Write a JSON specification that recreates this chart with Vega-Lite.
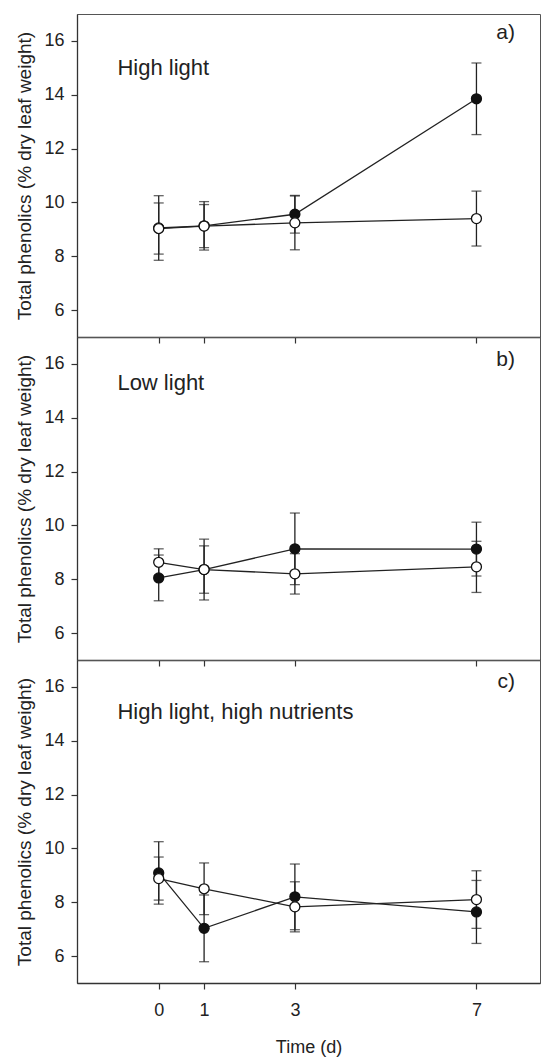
{
  "$schema": "https://vega.github.io/schema/vega-lite/v6.json",
  "padding": {"left": 15, "top": 13, "right": 0, "bottom": 0},
  "background": "white",
  "spacing": 0,
  "bounds": "flush",
  "config": {
    "font": "Liberation Sans",
    "view": {"stroke": "#555", "strokeWidth": 1},
    "axis": {
      "labelFont": "Liberation Sans",
      "titleFont": "Liberation Sans",
      "labelFontSize": 18,
      "titleFontSize": 18,
      "labelColor": "#222",
      "titleColor": "#222",
      "titleFontWeight": "normal",
      "domainColor": "#333",
      "tickColor": "#333",
      "domainWidth": 1.3,
      "tickWidth": 1.2,
      "tickSize": 6,
      "grid": false
    }
  },
  "datasets": {
    "pts": [
      {"panel": "a", "t": 0, "series": "filled", "mean": 9.05, "err": 1.2},
      {"panel": "a", "t": 1, "series": "filled", "mean": 9.13, "err": 0.9},
      {"panel": "a", "t": 3, "series": "filled", "mean": 9.56, "err": 0.7},
      {"panel": "a", "t": 7, "series": "filled", "mean": 13.85, "err": 1.33},
      {"panel": "a", "t": 0, "series": "open", "mean": 9.03, "err": 0.95},
      {"panel": "a", "t": 1, "series": "open", "mean": 9.12, "err": 0.8},
      {"panel": "a", "t": 3, "series": "open", "mean": 9.24, "err": 1.0},
      {"panel": "a", "t": 7, "series": "open", "mean": 9.4, "err": 1.02},
      {"panel": "b", "t": 0, "series": "filled", "mean": 8.05, "err": 0.85},
      {"panel": "b", "t": 1, "series": "filled", "mean": 8.36, "err": 0.88},
      {"panel": "b", "t": 3, "series": "filled", "mean": 9.13, "err": 1.33},
      {"panel": "b", "t": 7, "series": "filled", "mean": 9.12, "err": 1.0},
      {"panel": "b", "t": 0, "series": "open", "mean": 8.63, "err": 0.5},
      {"panel": "b", "t": 1, "series": "open", "mean": 8.36, "err": 1.13},
      {"panel": "b", "t": 3, "series": "open", "mean": 8.2, "err": 0.75},
      {"panel": "b", "t": 7, "series": "open", "mean": 8.46, "err": 0.95},
      {"panel": "c", "t": 0, "series": "filled", "mean": 9.09, "err": 1.16},
      {"panel": "c", "t": 1, "series": "filled", "mean": 7.03, "err": 1.24},
      {"panel": "c", "t": 3, "series": "filled", "mean": 8.2, "err": 1.22},
      {"panel": "c", "t": 7, "series": "filled", "mean": 7.64, "err": 1.17},
      {"panel": "c", "t": 0, "series": "open", "mean": 8.88, "err": 0.8},
      {"panel": "c", "t": 1, "series": "open", "mean": 8.5, "err": 0.96},
      {"panel": "c", "t": 3, "series": "open", "mean": 7.83, "err": 0.93},
      {"panel": "c", "t": 7, "series": "open", "mean": 8.1, "err": 1.07}
    ],
    "labels": [
      {"panel": "a", "label": "High light", "tag": "a)", "ly": 15.0},
      {"panel": "b", "label": "Low light", "tag": "b)", "ly": 15.3},
      {"panel": "c", "label": "High light, high nutrients", "tag": "c)", "ly": 15.05}
    ]
  },
  "vconcat": [
    {
      "width": 463,
      "height": 323,
      "layer": [
        {
          "data": {"name": "pts"},
          "transform": [{"filter": "datum.panel == 'a'"}],
          "mark": {"type": "errorbar", "ticks": {"size": 10}, "color": "#222", "thickness": 1.3},
          "encoding": {
            "x": {"field": "t", "type": "quantitative", "scale": {"domain": [-1.8, 8.4], "nice": false, "zero": false},
                  "axis": {"values": [0, 1, 3, 7], "labels": false, "title": null}},
            "y": {"field": "mean", "type": "quantitative", "scale": {"domain": [5, 17], "nice": false, "zero": false},
                  "axis": {"values": [6, 8, 10, 12, 14, 16], "labelPadding": 7, "title": "Total phenolics (% dry leaf weight)", "titlePadding": 9, "titleFontSize": 19}},
            "yError": {"field": "err"}
          }
        },
        {
          "data": {"name": "pts"},
          "transform": [{"filter": "datum.panel == 'a'"}],
          "mark": {"type": "line", "color": "#222", "strokeWidth": 1.3},
          "encoding": {
            "x": {"field": "t", "type": "quantitative"},
            "y": {"field": "mean", "type": "quantitative"},
            "detail": {"field": "series"},
            "order": {"field": "t"}
          }
        },
        {
          "data": {"name": "pts"},
          "transform": [{"filter": "datum.panel == 'a'"}],
          "mark": {"type": "point", "shape": "circle", "filled": true, "size": 100, "stroke": "#111", "strokeWidth": 1.3, "opacity": 1},
          "encoding": {
            "x": {"field": "t", "type": "quantitative"},
            "y": {"field": "mean", "type": "quantitative"},
            "fill": {"field": "series", "type": "nominal", "scale": {"domain": ["filled", "open"], "range": ["#111", "#ffffff"]}, "legend": null}
          }
        },
        {
          "data": {"name": "labels"},
          "transform": [{"filter": "datum.panel == 'a'"}],
          "mark": {"type": "text", "align": "left", "baseline": "middle", "fontSize": 22, "color": "#222", "font": "Liberation Sans"},
          "encoding": {"x": {"datum": -0.91}, "y": {"field": "ly", "type": "quantitative"}, "text": {"field": "label"}}
        },
        {
          "data": {"name": "labels"},
          "transform": [{"filter": "datum.panel == 'a'"}],
          "mark": {"type": "text", "align": "right", "baseline": "middle", "fontSize": 21, "color": "#222", "font": "Liberation Sans"},
          "encoding": {"x": {"datum": 7.85}, "y": {"datum": 16.3}, "text": {"field": "tag"}}
        }
      ]
    },
    {
      "width": 463,
      "height": 323,
      "layer": [
        {
          "data": {"name": "pts"},
          "transform": [{"filter": "datum.panel == 'b'"}],
          "mark": {"type": "errorbar", "ticks": {"size": 10}, "color": "#222", "thickness": 1.3},
          "encoding": {
            "x": {"field": "t", "type": "quantitative", "scale": {"domain": [-1.8, 8.4], "nice": false, "zero": false},
                  "axis": {"values": [0, 1, 3, 7], "labels": false, "title": null}},
            "y": {"field": "mean", "type": "quantitative", "scale": {"domain": [5, 17], "nice": false, "zero": false},
                  "axis": {"values": [6, 8, 10, 12, 14, 16], "labelPadding": 7, "title": "Total phenolics (% dry leaf weight)", "titlePadding": 9, "titleFontSize": 19}},
            "yError": {"field": "err"}
          }
        },
        {
          "data": {"name": "pts"},
          "transform": [{"filter": "datum.panel == 'b'"}],
          "mark": {"type": "line", "color": "#222", "strokeWidth": 1.3},
          "encoding": {
            "x": {"field": "t", "type": "quantitative"},
            "y": {"field": "mean", "type": "quantitative"},
            "detail": {"field": "series"},
            "order": {"field": "t"}
          }
        },
        {
          "data": {"name": "pts"},
          "transform": [{"filter": "datum.panel == 'b'"}],
          "mark": {"type": "point", "shape": "circle", "filled": true, "size": 100, "stroke": "#111", "strokeWidth": 1.3, "opacity": 1},
          "encoding": {
            "x": {"field": "t", "type": "quantitative"},
            "y": {"field": "mean", "type": "quantitative"},
            "fill": {"field": "series", "type": "nominal", "scale": {"domain": ["filled", "open"], "range": ["#111", "#ffffff"]}, "legend": null}
          }
        },
        {
          "data": {"name": "labels"},
          "transform": [{"filter": "datum.panel == 'b'"}],
          "mark": {"type": "text", "align": "left", "baseline": "middle", "fontSize": 22, "color": "#222", "font": "Liberation Sans"},
          "encoding": {"x": {"datum": -0.91}, "y": {"field": "ly", "type": "quantitative"}, "text": {"field": "label"}}
        },
        {
          "data": {"name": "labels"},
          "transform": [{"filter": "datum.panel == 'b'"}],
          "mark": {"type": "text", "align": "right", "baseline": "middle", "fontSize": 21, "color": "#222", "font": "Liberation Sans"},
          "encoding": {"x": {"datum": 7.85}, "y": {"datum": 16.15}, "text": {"field": "tag"}}
        }
      ]
    },
    {
      "width": 463,
      "height": 323,
      "layer": [
        {
          "data": {"name": "pts"},
          "transform": [{"filter": "datum.panel == 'c'"}],
          "mark": {"type": "errorbar", "ticks": {"size": 10}, "color": "#222", "thickness": 1.3},
          "encoding": {
            "x": {"field": "t", "type": "quantitative", "scale": {"domain": [-1.8, 8.4], "nice": false, "zero": false},
                  "axis": {"values": [0, 1, 3, 7], "labelPadding": 12, "title": "Time (d)", "titlePadding": 19}},
            "y": {"field": "mean", "type": "quantitative", "scale": {"domain": [5, 17], "nice": false, "zero": false},
                  "axis": {"values": [6, 8, 10, 12, 14, 16], "labelPadding": 7, "title": "Total phenolics (% dry leaf weight)", "titlePadding": 9, "titleFontSize": 19}},
            "yError": {"field": "err"}
          }
        },
        {
          "data": {"name": "pts"},
          "transform": [{"filter": "datum.panel == 'c'"}],
          "mark": {"type": "line", "color": "#222", "strokeWidth": 1.3},
          "encoding": {
            "x": {"field": "t", "type": "quantitative"},
            "y": {"field": "mean", "type": "quantitative"},
            "detail": {"field": "series"},
            "order": {"field": "t"}
          }
        },
        {
          "data": {"name": "pts"},
          "transform": [{"filter": "datum.panel == 'c'"}],
          "mark": {"type": "point", "shape": "circle", "filled": true, "size": 100, "stroke": "#111", "strokeWidth": 1.3, "opacity": 1},
          "encoding": {
            "x": {"field": "t", "type": "quantitative"},
            "y": {"field": "mean", "type": "quantitative"},
            "fill": {"field": "series", "type": "nominal", "scale": {"domain": ["filled", "open"], "range": ["#111", "#ffffff"]}, "legend": null}
          }
        },
        {
          "data": {"name": "labels"},
          "transform": [{"filter": "datum.panel == 'c'"}],
          "mark": {"type": "text", "align": "left", "baseline": "middle", "fontSize": 22, "color": "#222", "font": "Liberation Sans"},
          "encoding": {"x": {"datum": -0.91}, "y": {"field": "ly", "type": "quantitative"}, "text": {"field": "label"}}
        },
        {
          "data": {"name": "labels"},
          "transform": [{"filter": "datum.panel == 'c'"}],
          "mark": {"type": "text", "align": "right", "baseline": "middle", "fontSize": 21, "color": "#222", "font": "Liberation Sans"},
          "encoding": {"x": {"datum": 7.85}, "y": {"datum": 16.2}, "text": {"field": "tag"}}
        }
      ]
    }
  ]
}
